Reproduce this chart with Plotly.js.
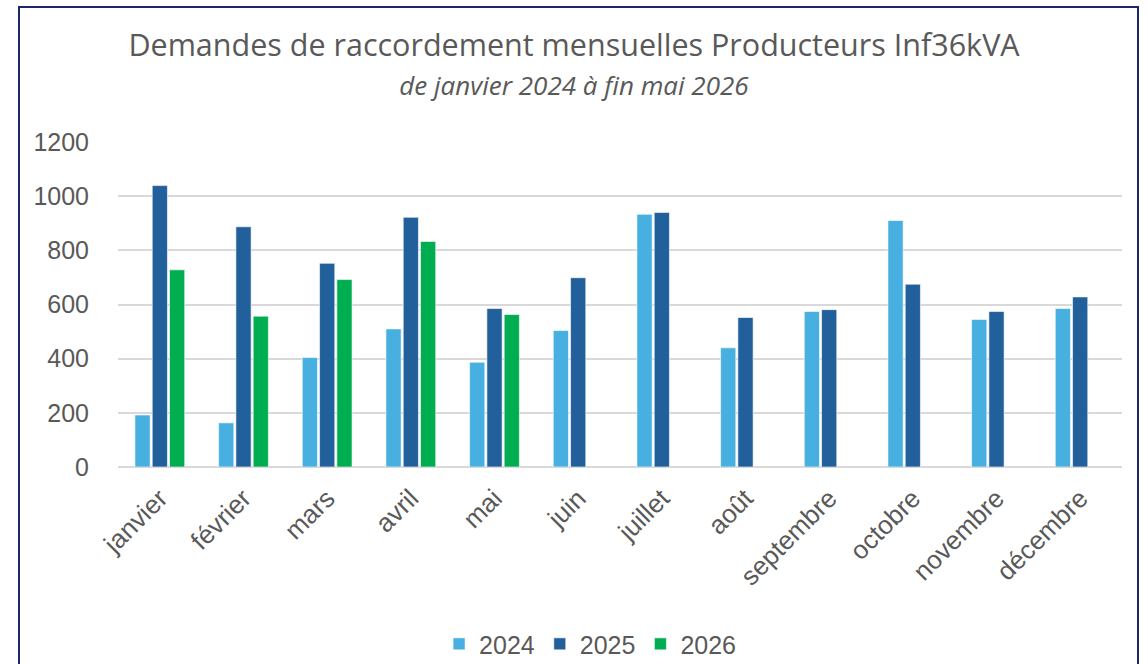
<!DOCTYPE html>
<html>
<head>
<meta charset="utf-8">
<script src="https://cdn.plot.ly/plotly-3.0.1.min.js"></script>
<style>
  html, body { margin: 0; padding: 0; background: #ffffff; overflow: hidden; width: 1148px; height: 664px; }
  #frame { position: absolute; left: 18px; top: 6px; width: 1121px; height: 680px; border: 2px solid #1b2768; box-sizing: border-box; }
  #chart { position: absolute; left: 0; top: 0; width: 1148px; height: 664px; }
</style>
</head>
<body>
<div id="frame"></div>
<div id="chart"></div>
<script>
const months = ["janvier","février","mars","avril","mai","juin","juillet","août","septembre","octobre","novembre","décembre"];
const v2024 = [192, 163, 404, 510, 387, 504, 933, 440, 574, 910, 545, 585];
const v2025 = [1039, 887, 752, 922, 585, 699, 940, 552, 581, 675, 574, 628];
const v2026 = [728, 557, 692, 833, 563, null, null, null, null, null, null, null];
const seriesNames = ["2024", "2025", "2026"];
const seriesColors = ["#47B0E0", "#22609B", "#00AD50"];
const yTicks = [0, 200, 400, 600, 800, 1000, 1200];

const allValues = [v2024, v2025, v2026];
const traces = allValues.map((vals, i) => ({
  type: "bar",
  name: seriesNames[i],
  x: months,
  y: vals,
  marker: { color: seriesColors[i], line: { color: "rgba(255,255,255,0.6)", width: 1 } },
  hoverinfo: "x+y+name"
}));

const tickFont = { family: "Liberation Sans, Arial, sans-serif", size: 25, color: "#595959" };

const layout = {
  width: 1148,
  height: 664,
  paper_bgcolor: "rgba(0,0,0,0)",
  plot_bgcolor: "rgba(0,0,0,0)",
  margin: { l: 118, r: 26, t: 142, b: 197 },
  barmode: "group",
  bargap: 0.38,
  bargroupgap: 0.12,
  title: {
    text: "Demandes de raccordement mensuelles Producteurs Inf36kVA<br><span style='font-size:26px'><i>de janvier 2024 à fin mai 2026</i></span>",
    font: { family: "Open Sans, sans-serif", size: 30.5, color: "#595959" },
    x: 0.5, xref: "container", xanchor: "center",
    y: 0.916, yref: "container", yanchor: "top"
  },
  xaxis: {
    type: "category",
    tickangle: -45,
    tickfont: { family: "Liberation Sans, Arial, sans-serif", size: 26, color: "#595959" },
    showgrid: false,
    showline: false,
    ticks: "",
    ticklabelstandoff: 10,
    automargin: false
  },
  yaxis: {
    range: [0, 1200],
    tickvals: yTicks,
    ticktext: yTicks.map(String),
    tickfont: tickFont,
    showgrid: true,
    gridcolor: "#d9d9d9",
    gridwidth: 2,
    zeroline: true,
    zerolinecolor: "#d9d9d9",
    zerolinewidth: 2,
    ticks: "",
    ticklabelstandoff: 28,
    automargin: false
  },
  showlegend: true,
  legend: {
    orientation: "h",
    xref: "container", x: 0.514, xanchor: "center",
    yref: "container", y: 0.030, yanchor: "middle",
    font: tickFont,
    itemwidth: 30,
    traceorder: "normal"
  }
};

Plotly.newPlot("chart", traces, layout, { displayModeBar: false });
</script>
</body>
</html>
